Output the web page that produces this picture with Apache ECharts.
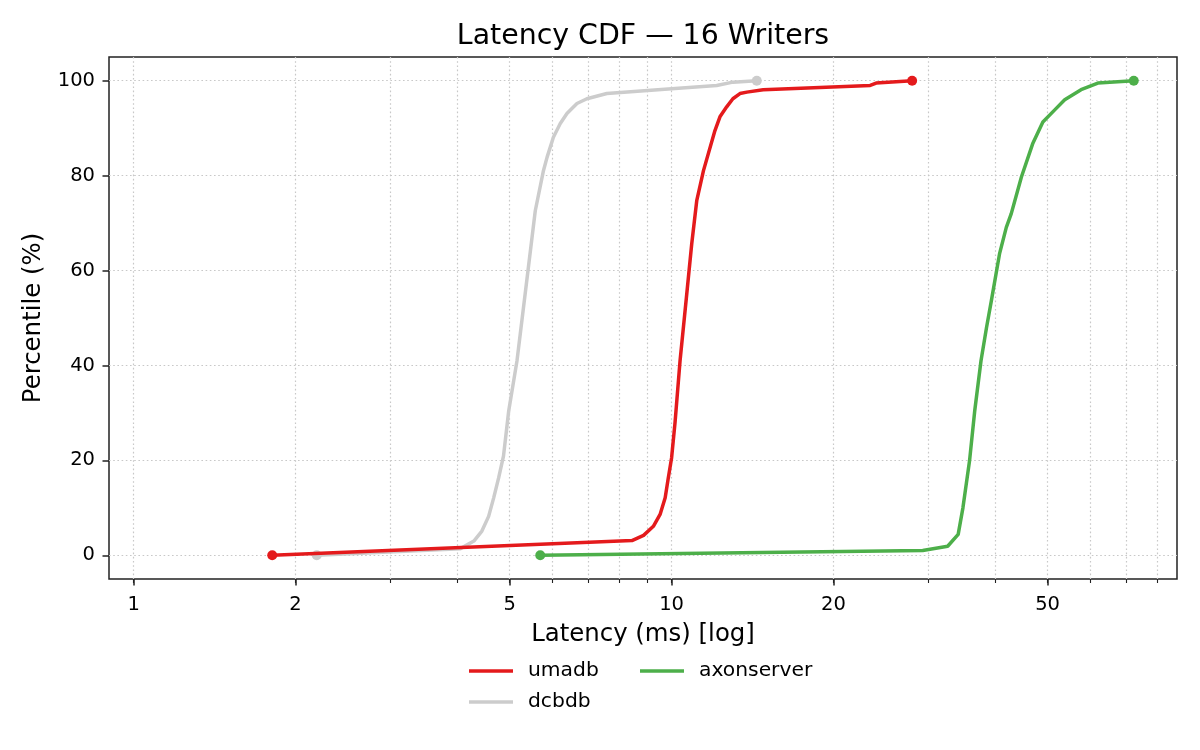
<!DOCTYPE html>
<html>
<head>
<meta charset="utf-8">
<script src="https://cdn.jsdelivr.net/npm/echarts@6/dist/echarts.min.js"></script>
<style>
html,body{margin:0;padding:0;background:#fff;}
#chart{width:1200px;height:750px;}
</style>
</head>
<body>
<div id="chart"></div>
<script>
// ---- data ----
const seriesNames = ['umadb', 'dcbdb', 'axonserver'];

const umadbLatency = [1.81, 8.44, 8.87, 9.25, 9.52, 9.73, 9.86, 10.0, 10.15, 10.37, 10.67, 10.9, 11.14, 11.46, 12.04, 12.3, 12.66, 13.0, 13.4, 13.8, 14.8, 23.4, 24.0, 28.0];
const umadbPct     = [0,    3.1,  4.2,  6.1,  8.6,  12.1, 16.3, 20.5, 28,    41,    55,    65.6, 74.8,  81,    89.5,  92.4, 94.5,  96.2, 97.3, 97.6, 98.1, 99.0, 99.5, 100];

const dcbdbLatency = [2.19, 4.05, 4.29, 4.44, 4.57, 4.67, 4.77, 4.87, 4.98, 5.16, 5.39, 5.58, 5.78, 5.87, 6.03, 6.21, 6.39, 6.67, 6.96, 7.58, 10.0, 12.13, 13.0, 14.4];
const dcbdbPct     = [0,    1.4,  3.0,  5.1,  8.2,  12.1, 16.3, 20.9, 30.4, 41,   58.6, 72.6, 81.1, 83.9, 88.1, 91.0, 93.1, 95.2, 96.2, 97.3, 98.3, 99.0,  99.7, 100];

const axonLatency = [5.70, 29.3, 32.6, 34.1, 34.8, 35.8, 36.6, 37.6, 38.5, 39.3, 40.7, 41.9, 42.8, 44.7, 46.9, 49.0, 51.5, 53.8, 57.7, 62.0, 72.3];
const axonPct     = [0,    1.0,  1.9,  4.4,  10,   19.9, 30.4, 41,   48,   53.6, 63.5, 69.1, 72,   79.7, 86.7, 91.3, 93.8, 96.0, 98.1, 99.5, 100];

const xMajorTicks = [1, 2, 5, 10, 20, 50];
const xGridTicks  = [1, 2, 3, 4, 5, 6, 7, 8, 9, 10, 20, 30, 40, 50, 60, 70, 80];
const yTicks      = [0, 20, 40, 60, 80, 100];

// ---- chart ----
const colors = {umadb: '#e41a1c', dcbdb: '#cccccc', axonserver: '#4daf4a'};
const FONT = 'DejaVu Sans';
const INK = '#222222';

function buildData(xs, ys) {
  return xs.map((x, i) => {
    const item = {value: [x, ys[i]]};
    if (i === 0 || i === xs.length - 1) {
      item.symbol = 'circle';
      item.symbolSize = 10;
    }
    return item;
  });
}

function lineSeries(name, xs, ys, z) {
  return {
    name: name,
    type: 'line',
    xAxisIndex: 0,
    yAxisIndex: 0,
    data: buildData(xs, ys),
    symbol: 'none',
    showSymbol: true,
    showAllSymbol: true,
    smooth: false,
    z: z,
    animation: false,
    color: colors[name],
    lineStyle: {width: 3.5, color: colors[name], join: 'round', cap: 'round'},
    itemStyle: {color: colors[name]},
    emphasis: {disabled: true}
  };
}

const gridLine = {show: true, lineStyle: {color: '#c8c8c8', width: 1.2, type: [1.6, 2.6]}};

const legendText = {fontFamily: FONT, fontSize: 20.3, color: '#000', padding: [0, 0, 0, 10]};

const option = {
  backgroundColor: '#ffffff',
  animation: false,
  textStyle: {fontFamily: FONT},
  title: {
    text: 'Latency CDF — 16 Writers',
    left: 643,
    top: 23,
    padding: 0,
    textAlign: 'center',
    textStyle: {fontFamily: FONT, fontSize: 28.4, fontWeight: 'normal', color: '#000'}
  },
  legend: [
    {data: ['umadb'], left: 469, top: 661, padding: 0, icon: 'rect', itemWidth: 44, itemHeight: 3.5, textStyle: legendText},
    {data: ['axonserver'], left: 640, top: 661, padding: 0, icon: 'rect', itemWidth: 44, itemHeight: 3.5, textStyle: legendText},
    {data: ['dcbdb'], left: 469, top: 692, padding: 0, icon: 'rect', itemWidth: 44, itemHeight: 3.5, textStyle: legendText}
  ],
  grid: {
    left: 109, right: 23, top: 57, bottom: 171,
    show: true, borderColor: INK, borderWidth: 1.5, backgroundColor: 'transparent'
  },
  xAxis: [
    {
      type: 'log', logBase: 10, min: 0.9, max: 87, position: 'bottom',
      name: 'Latency (ms) [log]', nameLocation: 'middle', nameGap: 44,
      nameTextStyle: {fontFamily: FONT, fontSize: 24.4, color: '#000'},
      axisLine: {show: false, onZero: false},
      axisTick: {show: true, inside: false, length: 4, customValues: xGridTicks, lineStyle: {color: INK, width: 1.1}},
      axisLabel: {show: false},
      splitLine: gridLine,
      minorTick: {show: false}, minorSplitLine: {show: false}
    },
    {
      type: 'log', logBase: 10, min: 0.9, max: 87, position: 'bottom',
      axisLine: {show: false, onZero: false},
      axisTick: {show: true, inside: false, length: 6.5, customValues: xMajorTicks, lineStyle: {color: INK, width: 1.5}},
      axisLabel: {show: true, customValues: xMajorTicks, margin: 16, fontFamily: FONT, fontSize: 19.5, color: '#000'},
      splitLine: {show: false}
    }
  ],
  yAxis: [
    {
      type: 'value', min: -5, max: 105, position: 'left',
      name: 'Percentile (%)', nameLocation: 'middle', nameGap: 63, nameRotate: 90,
      nameTextStyle: {fontFamily: FONT, fontSize: 24.4, color: '#000'},
      axisLine: {show: false, onZero: false},
      axisTick: {show: true, inside: false, length: 6.5, customValues: yTicks, lineStyle: {color: INK, width: 1.5}},
      axisLabel: {show: true, customValues: yTicks, margin: 14, fontFamily: FONT, fontSize: 19.5, color: '#000'},
      splitLine: gridLine
    }
  ],
  series: [
    lineSeries('umadb', umadbLatency, umadbPct, 3),
    lineSeries('dcbdb', dcbdbLatency, dcbdbPct, 2),
    lineSeries('axonserver', axonLatency, axonPct, 4)
  ]
};

const chart = echarts.init(document.getElementById('chart'), null, {renderer: 'canvas'});
chart.setOption(option);
</script>
</body>
</html>
